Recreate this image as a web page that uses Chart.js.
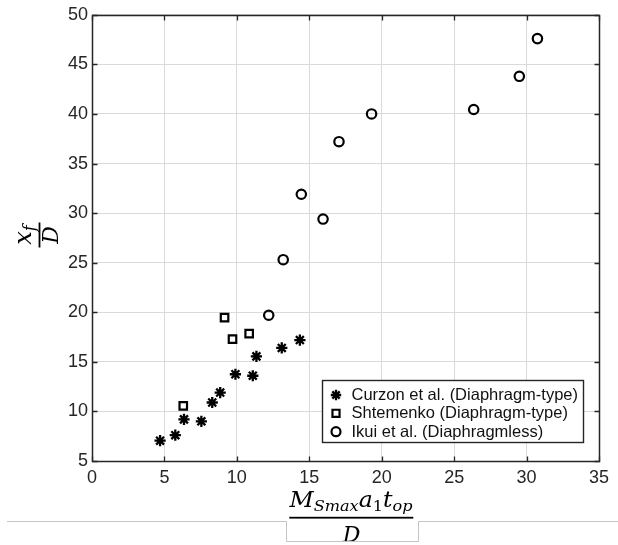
<!DOCTYPE html>
<html>
<head>
<meta charset="utf-8">
<script src="https://cdn.jsdelivr.net/npm/chart.js@4/dist/chart.umd.min.js"></script>
<style>
  html, body { margin: 0; padding: 0; background: #fff; }
  #wrap { width: 618px; height: 545px; position: relative; }
</style>
</head>
<body>
<div id="wrap"><canvas id="c" width="618" height="545"></canvas></div>
<script>
// Curzon et al. (diaphragm-type)
const curzonX = [4.7, 5.75, 6.35, 7.55, 8.3, 8.85, 9.9, 11.1, 11.35, 13.1, 14.35];
const curzonY = [7.05, 7.6, 9.2, 9.0, 10.9, 11.9, 13.75, 13.6, 15.55, 16.4, 17.2];

// Shtemenko (diaphragm-type)
const shtemenkoX = [6.3, 9.15, 9.7, 10.85];
const shtemenkoY = [10.55, 19.45, 17.3, 17.85];

// Ikui et al. (diaphragmless)
const ikuiX = [12.2, 13.2, 14.45, 15.95, 17.05, 19.3, 26.35, 29.5, 30.75];
const ikuiY = [19.7, 25.3, 31.9, 29.4, 37.2, 40.0, 40.45, 43.8, 47.6];

const seriesLabels = [
  'Curzon et al. (Diaphragm-type)',
  'Shtemenko (Diaphragm-type)',
  'Ikui et al. (Diaphragmless)'
];

const xTicks = [0, 5, 10, 15, 20, 25, 30, 35];
const yTicks = [5, 10, 15, 20, 25, 30, 35, 40, 45, 50];

const AXIS = '#262626';
const GRID = '#dadada';
const MATH = '"DejaVu Serif", "Liberation Serif", serif';

function toPoints(xs, ys) {
  return xs.map((x, i) => ({ x: x, y: ys[i] }));
}

// Draw a row of text runs (for the math labels), centred on cx.
function drawRuns(ctx, runs, cx, baseline, targetWidth) {
  let w = 0;
  runs.forEach(r => { ctx.font = r.font; r.w = ctx.measureText(r.t).width; w += r.w; });
  const sx = targetWidth ? targetWidth / w : 1;
  ctx.save();
  ctx.translate(cx, baseline);
  ctx.scale(sx, 1);
  let x = -w / 2;
  ctx.textAlign = 'left';
  ctx.textBaseline = 'alphabetic';
  runs.forEach(r => {
    ctx.font = r.font;
    ctx.fillText(r.t, x, r.dy || 0);
    x += r.w;
  });
  ctx.restore();
}

const framePlugin = {
  id: 'frame',
  afterDatasetsDraw(chart) {
    const ctx = chart.ctx;
    const a = chart.chartArea;
    const xs = chart.scales.x, ys = chart.scales.y;
    const L = Math.round(a.left) + 0.5, R = Math.round(a.right) + 0.5;
    const T = Math.round(a.top) + 0.5, B = Math.round(a.bottom) + 0.5;
    ctx.save();
    ctx.strokeStyle = AXIS;
    ctx.lineWidth = 1.5;
    ctx.strokeRect(L, T, R - L, B - T);
    const tl = 5;
    ctx.lineWidth = 1.3;
    ctx.beginPath();
    xTicks.forEach(v => {
      const px = Math.round(xs.getPixelForValue(v)) + 0.5;
      ctx.moveTo(px, B); ctx.lineTo(px, B - tl);
      ctx.moveTo(px, T); ctx.lineTo(px, T + tl);
    });
    yTicks.forEach(v => {
      const py = Math.round(ys.getPixelForValue(v)) + 0.5;
      ctx.moveTo(L, py); ctx.lineTo(L + tl, py);
      ctx.moveTo(R, py); ctx.lineTo(R - tl, py);
    });
    ctx.stroke();
    ctx.restore();
  },
  afterDraw(chart) {
    const ctx = chart.ctx;
    ctx.save();

    // legend box in the lower right of the plot
    const bx = 322.5, by = 380.5, bw = 261, bh = 62;
    ctx.fillStyle = '#fff';
    ctx.fillRect(bx, by, bw, bh);
    ctx.strokeStyle = AXIS;
    ctx.lineWidth = 1.4;
    ctx.strokeRect(bx, by, bw, bh);
    const rows = [395, 413.3, 431.7];
    ctx.font = '16.5px "Liberation Sans", Arial, sans-serif';
    ctx.textBaseline = 'middle';
    ctx.textAlign = 'left';
    chart.data.datasets.forEach((ds, i) => {
      ctx.strokeStyle = '#000';
      ctx.fillStyle = 'rgba(0,0,0,0)';
      ctx.lineWidth = ds.pointBorderWidth;
      Chart.helpers.drawPoint(ctx, {
        pointStyle: ds.pointStyle,
        radius: ds.legendRadius,
        borderWidth: ds.pointBorderWidth,
        rotation: 0
      }, 336, rows[i]);
      ctx.fillStyle = '#111';
      ctx.fillText(ds.label, 351.5, rows[i] + 0.5);
    });

    // x-axis title:  M_Smax a_1 t_op / D
    ctx.fillStyle = '#000';
    const big = 'italic 22px ' + MATH;
    const sub = 'italic 15px ' + MATH;
    const subUp = '15px ' + MATH;
    drawRuns(ctx, [
      { t: 'M', font: big },
      { t: 'Smax', font: sub, dy: 4 },
      { t: 'a', font: big },
      { t: '1', font: subUp, dy: 4 },
      { t: 't', font: big },
      { t: 'op', font: sub, dy: 4 }
    ], 351, 507, 123);
    ctx.fillRect(289.3, 516.8, 124, 1.8);
    drawRuns(ctx, [{ t: 'D', font: 'italic 22px ' + MATH }], 351.5, 541.5, 0);

    // y-axis title:  x_f / D, rotated
    ctx.save();
    ctx.translate(39.5, 235);
    ctx.rotate(-Math.PI / 2);
    drawRuns(ctx, [
      { t: 'x', font: 'italic 24px ' + MATH },
      { t: 'f', font: 'italic 16px ' + MATH, dy: 4 }
    ], 0, -8.5, 0);
    ctx.fillRect(-12.5, -0.9, 25, 1.8);
    drawRuns(ctx, [{ t: 'D', font: 'italic 22px ' + MATH }], 0, 18.5, 0);
    ctx.restore();

    // thin rule and box under the axis title
    ctx.strokeStyle = '#c4c4c4';
    ctx.lineWidth = 1;
    ctx.beginPath();
    ctx.moveTo(7, 521.5);
    ctx.lineTo(286.5, 521.5);
    ctx.lineTo(286.5, 541.5);
    ctx.lineTo(418.5, 541.5);
    ctx.lineTo(418.5, 521.5);
    ctx.lineTo(618, 521.5);
    ctx.stroke();

    ctx.restore();
  }
};

const tickFont = { family: '"Liberation Sans", Arial, sans-serif', size: 18 };

new Chart(document.getElementById('c'), {
  type: 'scatter',
  data: {
    datasets: [
      {
        label: seriesLabels[0],
        data: toPoints(curzonX, curzonY),
        pointStyle: 'star',
        pointRadius: 5.6,
        legendRadius: 5.2,
        pointBorderWidth: 2.3,
        borderColor: '#000',
        backgroundColor: 'rgba(0,0,0,0)'
      },
      {
        label: seriesLabels[1],
        data: toPoints(shtemenkoX, shtemenkoY),
        pointStyle: 'rect',
        pointRadius: 5.3,
        legendRadius: 5,
        pointBorderWidth: 2.2,
        borderColor: '#000',
        backgroundColor: 'rgba(0,0,0,0)'
      },
      {
        label: seriesLabels[2],
        data: toPoints(ikuiX, ikuiY),
        pointStyle: 'circle',
        pointRadius: 4.7,
        legendRadius: 4.5,
        pointBorderWidth: 2.2,
        borderColor: '#000',
        backgroundColor: 'rgba(0,0,0,0)'
      }
    ]
  },
  options: {
    responsive: false,
    animation: false,
    devicePixelRatio: 1,
    layout: { padding: { left: 0, top: 14, right: 19, bottom: 0 } },
    plugins: { legend: { display: false }, tooltip: { enabled: false } },
    scales: {
      x: {
        type: 'linear',
        min: 0, max: 35,
        afterBuildTicks: s => { s.ticks = xTicks.map(v => ({ value: v })); },
        afterFit: s => { s.height = 84; },
        ticks: { font: tickFont, color: AXIS, padding: 6, maxRotation: 0 },
        grid: { color: GRID, lineWidth: 1, drawTicks: false },
        border: { display: false }
      },
      y: {
        type: 'linear',
        min: 5, max: 50,
        afterBuildTicks: s => { s.ticks = yTicks.map(v => ({ value: v })); },
        afterFit: s => { s.width = 92; },
        ticks: { font: tickFont, color: AXIS, padding: 4 },
        grid: { color: GRID, lineWidth: 1, drawTicks: false },
        border: { display: false }
      }
    }
  },
  plugins: [framePlugin]
});
</script>
</body>
</html>
